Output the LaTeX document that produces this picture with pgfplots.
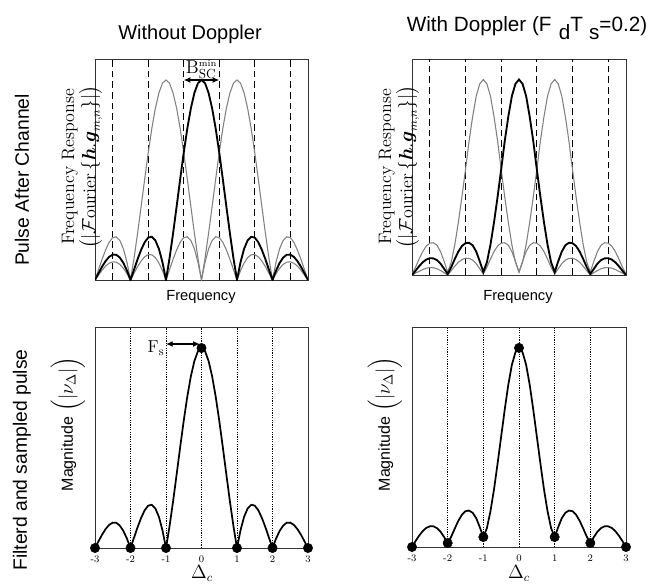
\documentclass[border=0pt]{standalone}
\usepackage{pgfplots}
\pgfplotsset{compat=1.18}
\usepackage{pgfplotstable}
\usepackage{amsmath}
\usepackage{fontspec}
\newfontfamily\arial{Liberation Sans}
\usetikzlibrary{arrows.meta}

% pulse spectrum without Doppler: centre subcarrier (c) and its two neighbours (l, r)
\pgfplotstableread{
x c l r
-3.0 0 0 0
-2.9 .034 .052 .025
-2.8 .067 .104 .049
-2.7 .095 .151 .070
-2.6 .116 .189 .084
-2.5 .127 .212 .091
-2.4 .126 .216 .089
-2.3 .112 .198 .078
-2.2 .085 .156 .058
-2.1 .047 .089 .032
-2.0 0 0 0
-1.9 .052 .109 .034
-1.8 .104 .234 .067
-1.7 .151 .368 .095
-1.6 .189 .505 .116
-1.5 .212 .637 .127
-1.4 .216 .757 .126
-1.3 .198 .858 .112
-1.2 .156 .935 .085
-1.1 .089 .984 .047
-1.0 0 1 0
-0.9 .109 .984 .052
-0.8 .234 .935 .104
-0.7 .368 .858 .151
-0.6 .505 .757 .189
-0.5 .637 .637 .212
-0.4 .757 .505 .216
-0.3 .858 .368 .198
-0.2 .935 .234 .156
-0.1 .984 .109 .089
0.0 1 0 0
0.1 .984 .089 .109
0.2 .935 .156 .234
0.3 .858 .198 .368
0.4 .757 .216 .505
0.5 .637 .212 .637
0.6 .505 .189 .757
0.7 .368 .151 .858
0.8 .234 .104 .935
0.9 .109 .052 .984
1.0 0 0 1
1.1 .089 .047 .984
1.2 .156 .085 .935
1.3 .198 .112 .858
1.4 .216 .126 .757
1.5 .212 .127 .637
1.6 .189 .116 .505
1.7 .151 .095 .368
1.8 .104 .067 .234
1.9 .052 .034 .109
2.0 0 0 0
2.1 .047 .032 .089
2.2 .085 .058 .156
2.3 .112 .078 .198
2.4 .126 .089 .216
2.5 .127 .091 .212
2.6 .116 .084 .189
2.7 .095 .070 .151
2.8 .067 .049 .104
2.9 .034 .025 .052
3.0 0 0 0
}\nodoppler

% pulse spectrum with Doppler spread
\pgfplotstableread{
x c l r
-3.0 0 .005 0
-2.9 .022 .040 .010
-2.8 .045 .082 .019
-2.7 .065 .120 .028
-2.6 .079 .148 .035
-2.5 .086 .163 .038
-2.4 .085 .165 .037
-2.3 .076 .152 .032
-2.2 .058 .120 .023
-2.1 .032 .070 .012
-2.0 .005 .015 0
-1.9 .040 .065 .022
-1.8 .082 .155 .045
-1.7 .120 .270 .065
-1.6 .148 .400 .079
-1.5 .163 .540 .086
-1.4 .165 .685 .085
-1.3 .152 .810 .076
-1.2 .120 .915 .058
-1.1 .070 .978 .032
-1.0 .015 1 .005
-0.9 .065 .978 .040
-0.8 .155 .915 .082
-0.7 .270 .810 .120
-0.6 .400 .685 .148
-0.5 .540 .540 .163
-0.4 .685 .400 .165
-0.3 .810 .270 .152
-0.2 .915 .155 .120
-0.1 .978 .065 .070
0.0 1 .015 .015
0.1 .978 .070 .065
0.2 .915 .120 .155
0.3 .810 .152 .270
0.4 .685 .165 .400
0.5 .540 .163 .540
0.6 .400 .148 .685
0.7 .270 .120 .810
0.8 .155 .082 .915
0.9 .065 .040 .978
1.0 .015 .005 1
1.1 .070 .032 .978
1.2 .120 .058 .915
1.3 .152 .076 .810
1.4 .165 .085 .685
1.5 .163 .086 .540
1.6 .148 .079 .400
1.7 .120 .065 .270
1.8 .082 .045 .155
1.9 .040 .022 .065
2.0 .005 0 .015
2.1 .032 .012 .070
2.2 .058 .023 .120
2.3 .076 .032 .152
2.4 .085 .037 .165
2.5 .086 .038 .163
2.6 .079 .035 .148
2.7 .065 .028 .120
2.8 .045 .019 .082
2.9 .022 .010 .040
3.0 0 0 .005
}\withdoppler

% filtered pulse with Doppler, continuous delay axis
\pgfplotstableread{
x v
-3.0 0
-2.9 .030
-2.8 .057
-2.7 .080
-2.6 .096
-2.5 .104
-2.4 .104
-2.3 .095
-2.2 .077
-2.1 .050
-2.0 .020
-1.9 .052
-1.8 .093
-1.7 .132
-1.6 .162
-1.5 .180
-1.4 .183
-1.3 .172
-1.2 .145
-1.1 .100
-1.0 .050
-0.9 .095
-0.8 .180
-0.7 .290
-0.6 .420
-0.5 .555
-0.4 .690
-0.3 .815
-0.2 .915
-0.1 .978
0.0 1
0.1 .978
0.2 .915
0.3 .815
0.4 .690
0.5 .555
0.6 .420
0.7 .290
0.8 .180
0.9 .095
1.0 .050
1.1 .100
1.2 .145
1.3 .172
1.4 .183
1.5 .180
1.6 .162
1.7 .132
1.8 .093
1.9 .052
2.0 .020
2.1 .050
2.2 .077
2.3 .095
2.4 .104
2.5 .104
2.6 .096
2.7 .080
2.8 .057
2.9 .030
3.0 0
}\sampleddoppler

\pgfplotsset{
  panel/.style={
    scale only axis,
    xmin=-3, xmax=3, ymin=0, ymax=1.105,
    axis line style={black!80, line width=0.6pt},
  },
  spectrum/.style={
    panel,
    xtick=\empty, ytick=\empty,
    extra x ticks={-2.5,-1.5,-0.5,0.5,1.5,2.5},
    extra x tick labels={},
    extra x tick style={
      major tick length=0pt,
      grid=major,
      major grid style={black, line width=0.9pt, dash pattern=on 5pt off 3pt},
    },
  },
  sampled/.style={
    panel,
    xtick={-3,-2,-1,0,1,2,3},
    xticklabels={-3,-2,-1,0,1,2,3},
    ytick=\empty,
    major tick length=0pt,
    xmajorgrids,
    major grid style={black, line width=0.6pt, dash pattern=on 0.9pt off 0.9pt},
    tick label style={font=\fontsize{7.5}{8}\selectfont},
    xticklabel style={inner sep=0.5pt, yshift=-5pt},
  },
  neighbour/.style={black!50, line width=0.8pt},
  centre/.style={black, line width=1.4pt},
}

\begin{document}
\begin{tikzpicture}
\useasboundingbox (0,0) rectangle (502.5pt,437.25pt);

% ---- Without Doppler: spectrum ----
\begin{axis}[spectrum, at={(71.25pt,227.25pt)}, anchor=south west,
  width=159.75pt, height=165.75pt]
  \addplot[neighbour] table[x=x, y=l] {\nodoppler};
  \addplot[neighbour] table[x=x, y=r] {\nodoppler};
  \addplot[centre] table[x=x, y=c] {\nodoppler};
  \draw[{Latex[length=5pt,width=4.5pt]}-{Latex[length=5pt,width=4.5pt]}, line width=0.9pt]
    (axis cs:-0.5,1.0) -- (axis cs:0.5,1.0);
  \node[anchor=south, inner sep=0.5pt, font=\fontsize{14}{16}\selectfont]
    at (axis cs:0,1.0) {$\mathrm{B}^{\scriptscriptstyle\mathrm{min}}_{\mathrm{SC}}$};
\end{axis}

% ---- With Doppler: spectrum ----
\begin{axis}[spectrum, at={(309pt,231pt)}, anchor=south west,
  width=160.5pt, height=162pt]
  \addplot[neighbour] table[x=x, y=l] {\withdoppler};
  \addplot[neighbour] table[x=x, y=r] {\withdoppler};
  \addplot[centre] table[x=x, y=c] {\withdoppler};
\end{axis}

% ---- Without Doppler: filtered and sampled ----
\begin{axis}[sampled, at={(71.25pt,26.25pt)}, anchor=south west,
  width=159.75pt, height=165.75pt]
  \addplot[black, line width=1.3pt] table[x=x, y=c] {\nodoppler};
  \addplot[only marks, mark=*, mark size=3.5pt, black] coordinates
    {(-3,0) (-2,0) (-1,0) (0,1) (1,0) (2,0) (3,0)};
  \draw[{Latex[length=5pt,width=4.5pt]}-{Latex[length=5pt,width=4.5pt]}, line width=0.9pt]
    (axis cs:-1,1.02) -- (axis cs:-0.05,1.02);
  \node[anchor=east, inner sep=1pt, font=\fontsize{13}{15}\selectfont]
    at (axis cs:-1,1.0) {$\mathrm{F}_{\mathrm{s}}$};
\end{axis}

% ---- With Doppler: filtered and sampled ----
\begin{axis}[sampled, at={(309pt,27pt)}, anchor=south west,
  width=160.5pt, height=165pt]
  \addplot[black, line width=1.3pt] table[x=x, y=v] {\sampleddoppler};
  \addplot[only marks, mark=*, mark size=3.5pt, black] coordinates
    {(-3,0) (-2,0.02) (-1,0.05) (0,1) (1,0.05) (2,0.02) (3,0)};
\end{axis}

% ---- titles and labels (layout units, origin top left) ----
\begin{scope}[x=0.75pt, y=-0.75pt, yshift=437.25pt]
\node[font=\arial\fontsize{15}{18}\selectfont] at (190,34) {Without Doppler};
\node[font=\arial\fontsize{15.5}{18}\selectfont] at (527,28)
  {With Doppler (F\hspace{0.35em}\raisebox{-0.7ex}{d}T\hspace{0.3em}\raisebox{-0.7ex}{s}=0.2)};

\node[rotate=90, font=\arial\fontsize{14.5}{17}\selectfont] at (22,180) {Pulse After Channel};
\node[rotate=90, font=\arial\fontsize{14.5}{17}\selectfont] at (22,460) {Filterd and sampled pulse};

\foreach \xo in {0,317} {
  \node[rotate=90, align=center, inner sep=1pt, font=\fontsize{13.5}{13}\selectfont]
    at ({82+\xo},167)
    {Frequency Response\\$\bigl(|\mathcal{F}\text{ourier}\,\{\boldsymbol{h}.\boldsymbol{g}_{m,n}\}|\bigr)$};
  \node[font=\arial\fontsize{11}{13}\selectfont] at ({201+\xo},297) {Frequency};
  \node[rotate=90, font=\fontsize{12}{14}\selectfont] at ({68+\xo},424)
    {{\arial Magnitude} {\fontsize{14}{16}\selectfont$\Bigl(|\nu_\Delta|\Bigr)$}};
  \node[font=\fontsize{13.5}{15}\selectfont, inner sep=0pt] at ({202+\xo},573.5) {$\Delta_c$};
}
\end{scope}
\end{tikzpicture}
\end{document}
